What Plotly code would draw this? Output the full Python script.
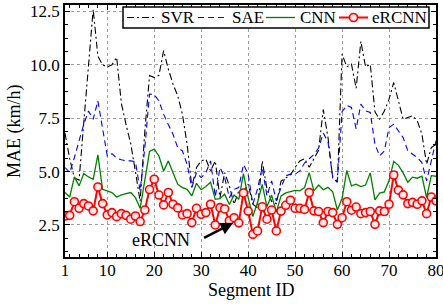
import plotly.graph_objects as go

segments = list(range(1, 81))

svr = [6.8, 5.6, 4.7, 4.6, 7.3, 10.0, 12.6, 10.4, 10.0, 9.9,
       10.0, 10.35, 8.2, 7.2, 6.3, 5.0, 3.6, 6.9, 9.5, 9.4,
       9.5, 10.66, 9.8, 9.1, 8.55, 7.69, 6.28, 4.28, 5.19, 5.5,
       5.58, 5.03, 5.5, 3.78, 4.95, 4.33, 3.47, 4.09, 4.09, 4.41,
       3.47, 3.3, 5.5, 4.2, 3.6, 3.5, 4.55, 4.7, 4.85, 5.2,
       5.5, 5.6, 5.2, 5.6, 6.0, 7.9, 6.6, 4.7, 4.5, 10.5,
       9.9, 10.03, 8.9, 11.1, 9.9, 10.03, 7.8, 7.45, 7.84, 8.39,
       9.17, 8.31, 7.45, 7.53, 7.61, 7.38, 6.75, 5.34, 6.12, 6.28]

sae = [5.19, 4.95, 5.66, 6.44, 7.22, 7.84, 7.45, 8.31, 6.91, 5.73,
       5.84, 5.63, 5.55, 5.5, 5.5, 5.47, 4.1, 6.12, 8.63, 8.6,
       8.31, 7.69, 7.2, 6.75, 6.12, 5.97, 5.34, 4.25, 4.95, 4.72,
       4.95, 5.5, 3.81, 5.19, 4.72, 3.78, 4.17, 4.25, 5.34, 4.88,
       3.47, 4.2, 5.19, 3.86, 4.56, 3.63, 4.25, 4.8, 4.88, 4.88,
       5.03, 5.4, 5.6, 5.8, 6.1, 6.8, 6.4, 4.75, 4.56, 7.8,
       8.1, 8.0, 7.0, 8.16, 7.84, 7.77, 6.28, 5.73, 5.97, 7.06,
       7.22, 6.91, 6.59, 5.97, 5.81, 5.66, 5.42, 4.56, 5.5, 6.44]

cnn = [4.02, 3.81, 4.75, 4.33, 4.91, 4.75, 4.64, 5.78, 4.17, 4.09,
       4.02, 3.81, 3.91, 3.97, 4.02, 3.78, 3.28, 4.6, 5.94, 6.05,
       5.73, 5.03, 5.5, 4.95, 4.41, 4.25, 4.17, 3.86, 4.45, 4.15,
       4.3, 4.5, 3.7, 3.73, 3.94, 3.46, 3.9, 3.7, 4.9, 3.78,
       2.9, 3.55, 4.4, 3.35, 3.9, 3.1, 3.86, 4.0, 4.05, 4.12,
       4.1, 4.25, 4.95, 4.1, 4.37, 4.15, 4.26, 4.05, 3.2, 3.74,
       5.05, 4.33, 4.41, 4.3, 4.37, 4.94, 3.67, 3.99, 4.05, 4.58,
       5.48, 5.29, 4.94, 4.5, 4.74, 4.69, 4.78, 3.78, 4.81, 4.78]

ercnn = [2.92, 2.95, 3.59, 3.28, 3.5, 3.39, 3.16, 4.28, 3.5, 2.97,
         3.08, 2.89, 3.03, 2.95, 2.77, 2.92, 2.66, 3.2, 4.16, 4.64,
         3.9, 3.44, 4.02, 3.47, 3.3, 2.97, 3.03, 2.61, 3.28, 3.0,
         3.08, 3.47, 2.5, 3.31, 3.25, 2.7, 2.84, 2.6, 4.0, 3.15,
         2.06, 2.22, 3.35, 2.77, 3.2, 2.22, 3.15, 3.42, 3.66, 3.28,
         3.28, 3.23, 4.02, 3.16, 3.13, 2.61, 3.13, 3.08, 2.53, 2.84,
         3.59, 3.19, 3.34, 3.03, 3.08, 3.13, 2.53, 3.16, 3.13, 3.47,
         4.84, 4.13, 3.91, 3.5, 3.56, 3.47, 3.63, 3.03, 3.81, 3.63]

series_names = ["SVR", "SAE", "CNN", "eRCNN"]
x_ticks = [1, 10, 20, 30, 40, 50, 60, 70, 80]
y_ticks = [2.5, 5.0, 7.5, 10.0, 12.5]

FONT = "Liberation Serif, Times New Roman, serif"
FS = 18
FS_TICK = 17
FS_LEG = 17

# plot-area geometry (pixels) used only to place the hand-made legend box
W, H = 443, 304
ML, MR, MT, MB = 65, 7, 5, 47
PW, PH = W - ML - MR, H - MT - MB


def px2x(px):
    return (px - ML) / PW


def py2y(py):
    return (H - MB - py) / PH


styles = {
    "SVR": dict(color="black", width=1.1, dash="7px,3px,2px,3px"),
    "SAE": dict(color="#0000ff", width=1.1, dash="6px,4px"),
    "CNN": dict(color="#008000", width=1.3),
    "eRCNN": dict(color="#ff0000", width=2),
}
MARKER = dict(symbol="circle", size=8, color="#ffe8e8",
              line=dict(color="#ff0000", width=1.6))

fig = go.Figure()
for name, vals in zip(series_names, [svr, sae, cnn, ercnn]):
    fig.add_trace(go.Scatter(
        x=segments, y=vals, name=name,
        mode="lines+markers" if name == "eRCNN" else "lines",
        line=styles[name],
        marker=MARKER if name == "eRCNN" else None,
        showlegend=False))

# arrow annotation
fig.add_annotation(x=36.8, y=2.6, ax=30.3, ay=1.86, xref="x", yref="y",
                   axref="x", ayref="y", text="", showarrow=True,
                   arrowhead=2, arrowsize=1.0, arrowwidth=2.5, arrowcolor="black")
fig.add_annotation(x=21.4, y=1.81, xref="x", yref="y", text="eRCNN",
                   showarrow=False, font=dict(family=FONT, size=FS, color="black"))

# axis titles
fig.add_annotation(x=0.5, y=0, xref="paper", yref="paper", text="Segment ID",
                   showarrow=False, yanchor="middle", yshift=-33,
                   font=dict(family=FONT, size=FS, color="black"))
fig.add_annotation(x=0, y=0.5, xref="paper", yref="paper", text="MAE (km/h)",
                   showarrow=False, textangle=-90, xanchor="center", xshift=-51,
                   font=dict(family=FONT, size=FS, color="black"))

# legend box (drawn by hand to match the compact MATLAB-style legend)
fig.add_shape(type="rect", xref="paper", yref="paper",
              x0=px2x(123), x1=px2x(429), y0=py2y(28), y1=py2y(7),
              line=dict(color="black", width=1.5), fillcolor="white", layer="above")
leg_items = [("SVR", 127, 156, 159), ("SAE", 198, 227, 230),
             ("CNN", 266, 295, 298), ("eRCNN", 339, 368, 370)]
ly = py2y(17.5)
for name, lx0, lx1, tx in leg_items:
    fig.add_shape(type="line", xref="paper", yref="paper",
                  x0=px2x(lx0), x1=px2x(lx1), y0=ly, y1=ly,
                  line=styles[name], layer="above")
    fig.add_annotation(x=px2x(tx), y=ly, xref="paper", yref="paper", text=name,
                       showarrow=False, xanchor="left", yanchor="middle",
                       font=dict(family=FONT, size=FS_LEG, color="black"))
mx = (339 + 368) / 2
fig.add_shape(type="circle", xref="paper", yref="paper",
              x0=px2x(mx - 4), x1=px2x(mx + 4), y0=py2y(21.5), y1=py2y(13.5),
              line=dict(color="#ff0000", width=1.6), fillcolor="#ffe8e8", layer="above")

axis_common = dict(
    showline=True, linecolor="black", linewidth=1.5, mirror="allticks",
    ticks="inside", ticklen=5, tickwidth=1, tickcolor="black",
    showgrid=True, gridcolor="#a0a0a0", griddash="dot", gridwidth=1,
    zeroline=False, automargin=False, ticklabeloverflow="allow",
    tickfont=dict(family=FONT, size=FS_TICK, color="black"),
)

fig.update_xaxes(range=[1, 80], tickmode="array", tickvals=x_ticks,
                 ticklabelstandoff=-3,
                 minor=dict(ticks="inside", ticklen=3, dtick=2, tick0=0,
                            tickcolor="black", showgrid=False),
                 **axis_common)
fig.update_yaxes(range=[1.0, 12.8], tickmode="array", tickvals=y_ticks,
                 ticktext=[f"{v:.1f}" for v in y_ticks],
                 minor=dict(ticks="inside", ticklen=3, dtick=0.625, tick0=0,
                            tickcolor="black", showgrid=False),
                 **axis_common)

fig.update_layout(
    width=W, height=H,
    margin=dict(l=ML, r=MR, t=MT, b=MB),
    paper_bgcolor="white", plot_bgcolor="white",
    font=dict(family=FONT, size=FS, color="black"),
    showlegend=False,
)

fig.write_html("out.html", config={"displayModeBar": False},
               post_script="document.body.style.margin='0px';document.body.style.padding='0px';")
